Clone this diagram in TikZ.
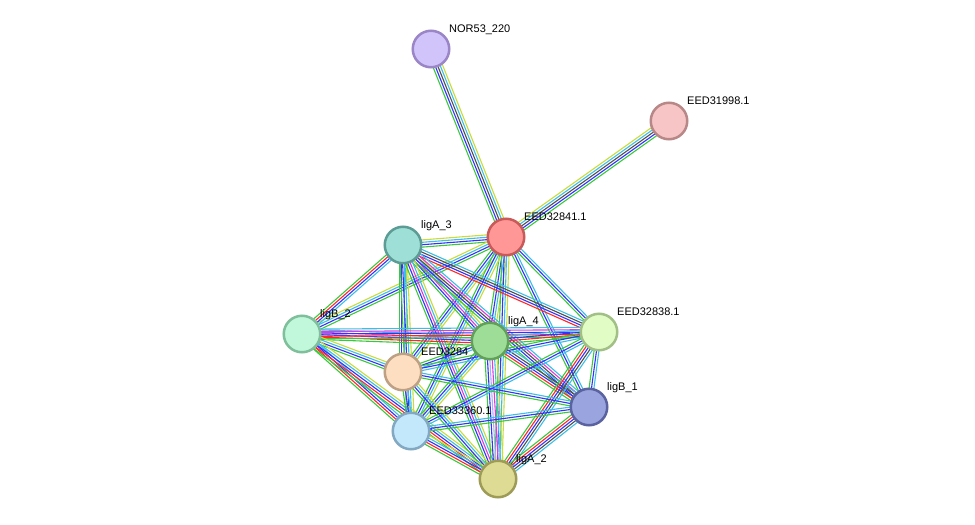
\documentclass[tikz,border=0pt]{standalone}
\usepackage{fontspec}
\setmainfont{Liberation Sans}
\usetikzlibrary{calc}
\definecolor{cgr}{RGB}{60,200,60}
\definecolor{crd}{RGB}{255,40,40}
\definecolor{cbl}{RGB}{50,50,255}
\definecolor{cgy}{RGB}{80,80,80}
\definecolor{cmg}{RGB}{220,60,220}
\definecolor{ccy}{RGB}{60,190,230}
\definecolor{cyg}{RGB}{200,220,60}
\definecolor{chm}{RGB}{170,170,255}
\tikzset{
  prot/.style={circle, minimum size=36.5pt, inner sep=0pt, line width=2.5pt},
  lbl/.style={anchor=base west, inner sep=0pt, font=\fontsize{11}{13}\selectfont},
}
\newcommand\edgeline[4]{%
  \foreach \cc [count=\i] in {#4}{%
    \pgfmathsetmacro\off{(\i-(#3+1)/2)*2.4}%
    \draw[\cc, line width=1.1pt] ($(#1)!\off pt!90:(#2)$) -- ($(#2)!\off pt!-90:(#1)$);
  }%
}
\newcommand\plainlabel[3]{%
  \node[lbl] (#1) at ($(#2)+(18,-17)$) {#3};
}
\begin{document}
\begin{tikzpicture}[x=1pt,y=-1pt]
\useasboundingbox[fill=white] (0,0) rectangle (975,525);
\coordinate (NOR) at (431,49);
\coordinate (C31) at (669,121);
\coordinate (A) at (506,237);
\coordinate (L3) at (403,245);
\coordinate (B2) at (302,334);
\coordinate (L4) at (490,341);
\coordinate (C38) at (599,332);
\coordinate (C40) at (403,372);
\coordinate (B1) at (589,407);
\coordinate (C60) at (411,431);
\coordinate (L2) at (498,479);
% edges
\edgeline{NOR}{A}{5}{cgr,cbl,cgy,ccy,cyg}
\edgeline{A}{C31}{5}{cgr,cbl,cgy,ccy,cyg}
\edgeline{L3}{A}{4}{cgr,cbl,ccy,cyg}
\edgeline{B2}{A}{4}{cgr,cbl,ccy,cyg}
\edgeline{A}{L4}{4}{cgr,cbl,ccy,cyg}
\edgeline{A}{C38}{3}{cgr,cbl,ccy}
\edgeline{A}{C40}{4}{cgr,cbl,ccy,cyg}
\edgeline{A}{B1}{3}{cgr,cbl,ccy}
\edgeline{A}{C60}{4}{cgr,cbl,ccy,cyg}
\edgeline{A}{L2}{4}{cgr,cbl,ccy,cyg}
\edgeline{L3}{B2}{4}{cgr,crd,cbl,ccy}
\edgeline{L3}{L4}{5}{cgr,cbl,cmg,ccy,cyg}
\edgeline{L3}{C38}{4}{crd,cbl,cgy,ccy}
\edgeline{L3}{B1}{5}{cgr,cbl,cgy,cmg,ccy}
\edgeline{L3}{C40}{4}{cgr,cbl,ccy,cyg}
\edgeline{L3}{C60}{4}{cgr,cbl,ccy,cyg}
\edgeline{L3}{L2}{5}{cgr,cbl,cmg,ccy,cyg}
\edgeline{B2}{L4}{5}{cgr,crd,cbl,cmg,ccy}
\edgeline{B2}{C38}{5}{cgr,crd,cbl,cmg,ccy}
\edgeline{B2}{C40}{4}{cgr,cbl,ccy,cyg}
\edgeline{B2}{C60}{4}{cgr,crd,cbl,ccy}
\edgeline{B2}{L2}{5}{cgr,crd,cbl,ccy,cyg}
\edgeline{L4}{C38}{4}{cgr,crd,cbl,ccy}
\edgeline{L4}{C40}{3}{cgr,cbl,ccy}
\edgeline{L4}{B1}{5}{cgr,crd,cbl,cgy,ccy}
\edgeline{L4}{C60}{4}{cgr,cbl,ccy,cyg}
\edgeline{L4}{L2}{6}{cgr,cbl,chm,cmg,ccy,cyg}
\edgeline{C38}{C40}{3}{cgr,cbl,ccy}
\edgeline{C38}{B1}{3}{cgr,cbl,ccy}
\edgeline{C38}{C60}{3}{cgr,cbl,ccy}
\edgeline{C38}{L2}{5}{cgr,crd,cbl,cgy,ccy}
\edgeline{C40}{B1}{3}{cgr,cbl,ccy}
\edgeline{C40}{C60}{3}{cgr,cbl,ccy}
\edgeline{C40}{L2}{4}{cgr,cbl,ccy,cyg}
\edgeline{C60}{B1}{3}{cgr,cbl,ccy}
\edgeline{B1}{L2}{5}{cgr,crd,cbl,cgy,ccy}
\edgeline{C60}{L2}{5}{cgr,crd,cbl,ccy,cyg}
% labels
\plainlabel{tNOR}{NOR}{NOR53\_220}
\plainlabel{tC31}{C31}{EED31998.1}
\plainlabel{tA}{A}{EED32841.1}
\plainlabel{tL3}{L3}{ligA\_3}
\plainlabel{tB2}{B2}{ligB\_2}
\plainlabel{tL4}{L4}{ligA\_4}
\plainlabel{tC38}{C38}{EED32838.1}
\plainlabel{tC40}{C40}{EED3284}
\plainlabel{tB1}{B1}{ligB\_1}
\plainlabel{tC60}{C60}{EED33360.1}
\plainlabel{tL2}{L2}{ligA\_2}
% nodes
\node[prot, fill={rgb,255:red,209;green,196;blue,251}, draw={rgb,255:red,154;green,133;blue,198}] (nNOR) at (NOR) {};
\node[prot, fill={rgb,255:red,247;green,197;blue,197}, draw={rgb,255:red,184;green,136;blue,136}] (nC31) at (C31) {};
\node[prot, fill={rgb,255:red,255;green,151;blue,151}, draw={rgb,255:red,200;green,90;blue,90}] (nA) at (A) {};
\node[prot, fill={rgb,255:red,158;green,224;blue,216}, draw={rgb,255:red,92;green,156;blue,148}] (nL3) at (L3) {};
\node[prot, fill={rgb,255:red,193;green,247;blue,219}, draw={rgb,255:red,127;green,191;blue,155}] (nB2) at (B2) {};
\node[prot, fill={rgb,255:red,226;green,252;blue,198}, draw={rgb,255:red,162;green,191;blue,134}] (nC38) at (C38) {};
\node[prot, fill={rgb,255:red,254;green,222;blue,192}, draw={rgb,255:red,190;green,160;blue,132}] (nC40) at (C40) {};
\node[prot, fill={rgb,255:red,158;green,221;blue,151}, draw={rgb,255:red,97;green,160;blue,90}] (nL4) at (L4) {};
\node[prot, fill={rgb,255:red,154;green,164;blue,222}, draw={rgb,255:red,90;green,99;blue,160}] (nB1) at (B1) {};
\node[prot, fill={rgb,255:red,195;green,232;blue,252}, draw={rgb,255:red,130;green,168;blue,194}] (nC60) at (C60) {};
\node[prot, fill={rgb,255:red,222;green,219;blue,148}, draw={rgb,255:red,158;green,155;blue,87}] (nL2) at (L2) {};
\end{tikzpicture}
\end{document}
